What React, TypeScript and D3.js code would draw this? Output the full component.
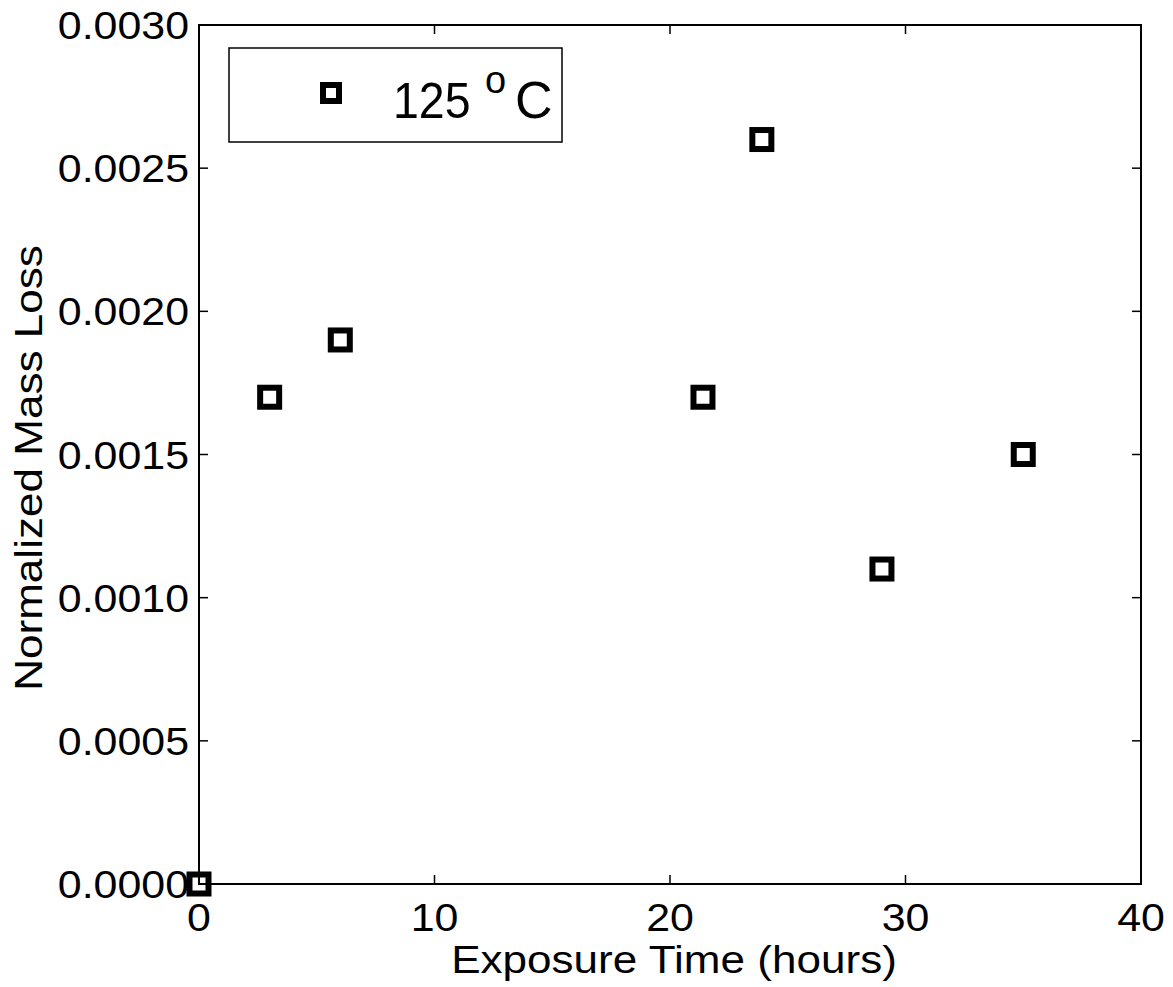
import React from "react";
import * as d3 from "d3";

const hours = [0, 3, 6, 21.4, 23.9, 29, 35];
const massLoss = [0, 0.0017, 0.0019, 0.0017, 0.0026, 0.0011, 0.0015];
const xTicks = [0, 10, 20, 30, 40];
const yTicks = [0, 0.0005, 0.001, 0.0015, 0.002, 0.0025, 0.003];
const legendLabel = "125";
const xTitle = "Exposure Time (hours)";
const yTitle = "Normalized Mass Loss";

const W = 1173;
const H = 987;
const M = { left: 199, right: 1141, top: 25, bottom: 884 };
const FONT = "'Liberation Sans', Arial, Helvetica, sans-serif";
const SX = 1.1;

export default function App() {
  const x = d3.scaleLinear().domain([0, 40]).range([M.left, M.right]);
  const y = d3.scaleLinear().domain([0, 0.003]).range([M.bottom, M.top]);
  const tl = 9;
  const ms = 19;
  return (
    <svg
      width={W}
      height={H}
      style={{ position: "absolute", left: 0, top: 0, background: "#fff" }}
      fontFamily={FONT}
    >
      <rect x={0} y={0} width={W} height={H} fill="#fff" />
      {xTicks.map((t) => (
        <g key={"xt" + t}>
          <line x1={x(t)} x2={x(t)} y1={M.bottom} y2={M.bottom - tl} stroke="#000" strokeWidth={1.5} />
          <line x1={x(t)} x2={x(t)} y1={M.top} y2={M.top + tl} stroke="#000" strokeWidth={1.5} />
          <text
            transform={`translate(${x(t)}, 931) scale(${SX}, 1)`}
            textAnchor="middle"
            fontSize={39}
            fill="#000"
          >
            {t}
          </text>
        </g>
      ))}
      {yTicks.map((t) => (
        <g key={"yt" + t}>
          <line x1={M.left} x2={M.left + tl} y1={y(t)} y2={y(t)} stroke="#000" strokeWidth={1.5} />
          <line x1={M.right} x2={M.right - tl} y1={y(t)} y2={y(t)} stroke="#000" strokeWidth={1.5} />
          <text
            transform={`translate(189, ${y(t) + 14}) scale(${SX}, 1)`}
            textAnchor="end"
            fontSize={39}
            fill="#000"
          >
            {d3.format(".4f")(t)}
          </text>
        </g>
      ))}
      <rect
        x={M.left}
        y={M.top}
        width={M.right - M.left}
        height={M.bottom - M.top}
        fill="none"
        stroke="#000"
        strokeWidth={2}
      />
      <text
        transform={`translate(674, 973) scale(${SX + 0.03}, 1)`}
        textAnchor="middle"
        fontSize={39}
        fill="#000"
      >
        {xTitle}
      </text>
      <text
        transform={`translate(42, 468) rotate(-90) scale(${SX + 0.03}, 1)`}
        textAnchor="middle"
        fontSize={39}
        fill="#000"
      >
        {yTitle}
      </text>
      {/* legend */}
      <rect x={229} y={48} width={333} height={94} fill="#fff" stroke="#000" strokeWidth={1.5} />
      <rect x={331 - 8} y={93 - 8} width={16} height={16} fill="none" stroke="#000" strokeWidth={6} />
      <text transform="translate(393, 118) scale(0.93, 1)" fontSize={50} fill="#000">
        {legendLabel}
      </text>
      <text x={485} y={93} fontSize={38} fill="#000">
        o
      </text>
      <text x={515} y={118} fontSize={52} fill="#000">
        C
      </text>
      {hours.map((h, i) => (
        <rect
          key={"p" + i}
          x={x(h) - ms / 2}
          y={y(massLoss[i]) - ms / 2}
          width={ms}
          height={ms}
          fill="none"
          stroke="#000"
          strokeWidth={6}
        />
      ))}
    </svg>
  );
}
